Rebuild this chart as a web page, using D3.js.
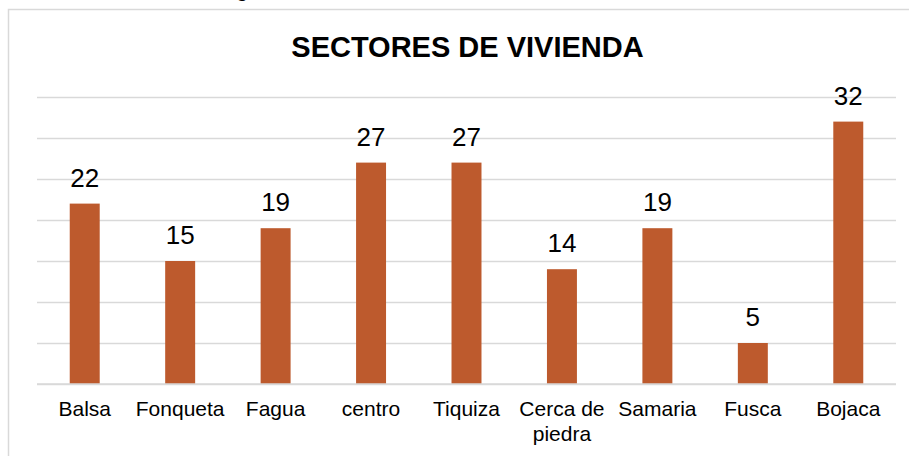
<!DOCTYPE html>
<html>
<head>
<meta charset="utf-8">
<script src="https://cdn.jsdelivr.net/npm/d3@7"></script>
<style>
  body { margin: 0; background: #fff; }
  svg { display: block; font-family: "Liberation Sans", Arial, sans-serif; }
</style>
</head>
<body>
<svg id="chart" width="909" height="456"></svg>
<script>
// data
var categories = ["Balsa", "Fonqueta", "Fagua", "centro", "Tiquiza", "Cerca de piedra", "Samaria", "Fusca", "Bojaca"];
var values = [22, 15, 19, 27, 27, 14, 19, 5, 32];
var gridTicks = [0, 5, 10, 15, 20, 25, 30, 35];
var title = "SECTORES DE VIVIENDA";

var W = 909, H = 456;
var plot = { left: 37, right: 896, top: 97, bottom: 384 };

var svg = d3.select("#chart");

// text from the page above, cut by the crop
svg.append("text")
    .attr("x", 242).attr("y", -3)
    .attr("text-anchor", "middle")
    .style("font-size", "21px")
    .attr("fill", "#000")
    .text("g");

// chart area border (runs off the right and bottom)
svg.append("rect")
    .attr("x", 8.5).attr("y", 9.5)
    .attr("width", W + 10).attr("height", H + 10)
    .attr("fill", "#fff")
    .attr("stroke", "#d9d9d9")
    .attr("stroke-width", 1.5);

var x = d3.scaleBand()
    .domain(categories)
    .range([plot.left, plot.right])
    .paddingInner(0.686)
    .paddingOuter(0.343);

var y = d3.scaleLinear()
    .domain([0, 35])
    .range([plot.bottom, plot.top]);

// gridlines
var yAxis = d3.axisLeft(y).tickValues(gridTicks).tickSize(-(plot.right - plot.left)).tickFormat("");
var gy = svg.append("g")
    .attr("transform", "translate(" + plot.left + ",0)")
    .call(yAxis);
gy.select(".domain").remove();
gy.selectAll(".tick line").attr("stroke", "#d9d9d9").attr("stroke-width", 1.3);

// bars
svg.append("g").selectAll("rect")
    .data(values)
  .enter().append("rect")
    .attr("x", function (d, i) { return x(categories[i]); })
    .attr("y", function (d) { return y(d); })
    .attr("width", x.bandwidth())
    .attr("height", function (d) { return y(0) - y(d); })
    .attr("fill", "#bd5a2d");

// value labels
svg.append("g").selectAll("text")
    .data(values)
  .enter().append("text")
    .attr("x", function (d, i) { return x(categories[i]) + x.bandwidth() / 2; })
    .attr("y", function (d) { return y(d) - 17; })
    .attr("text-anchor", "middle")
    .style("font-size", "26px")
    .attr("fill", "#000")
    .text(function (d) { return d; });

// category axis
var xAxis = d3.axisBottom(x).tickSize(0).tickPadding(0);
var gx = svg.append("g")
    .attr("transform", "translate(0," + plot.bottom + ")")
    .call(xAxis);
gx.select(".domain").remove();
gx.selectAll(".tick text")
    .attr("y", 0).attr("dy", null)
    .style("font-size", "21px")
    .style("font-family", "Liberation Sans, Arial, sans-serif")
    .attr("fill", "#000")
    .each(function (d) {
        var t = d3.select(this), words = d.split(" "), lines = [], line = [];
        t.text(null);
        var probe = t.append("tspan");
        words.forEach(function (w) {
            line.push(w);
            probe.text(line.join(" "));
            if (probe.node().getComputedTextLength() > x.step() - 4 && line.length > 1) {
                line.pop();
                lines.push(line.join(" "));
                line = [w];
            }
        });
        lines.push(line.join(" "));
        probe.remove();
        lines.forEach(function (l, k) {
            t.append("tspan").attr("x", 0).attr("y", 32 + k * 24.5).text(l);
        });
    });

// baseline
svg.append("line")
    .attr("x1", plot.left).attr("x2", plot.right)
    .attr("y1", y(0)).attr("y2", y(0))
    .attr("stroke", "#d9d9d9").attr("stroke-width", 1.5);

// title
svg.append("text")
    .attr("x", (plot.left + plot.right) / 2 + 1)
    .attr("y", 57)
    .attr("text-anchor", "middle")
    .style("font-size", "29px")
    .style("font-weight", "bold")
    .attr("fill", "#000")
    .text(title);
</script>
</body>
</html>
